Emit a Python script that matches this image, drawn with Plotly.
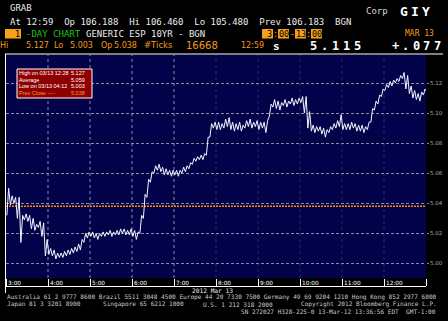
import plotly.graph_objects as go

W, H = 448, 321
MONO = "DejaVu Sans Mono"
SANS = "DejaVu Sans"

# ---------------- data ----------------
session_start = "3:00"
bar_minutes = 5
# 5-minute bars, low / high (ESP 10YR generic yield, 13 Mar 2012)
bar_lo = [
    5.032, 5.039, 5.040, 5.030, 5.014, 5.029, 5.028, 5.023, 5.022, 5.024, 5.018, 5.005,
    5.006, 5.005, 5.003, 5.004, 5.004, 5.005, 5.006, 5.007, 5.008, 5.009, 5.014, 5.017,
    5.018, 5.017, 5.016, 5.018, 5.018, 5.019, 5.018, 5.019, 5.019, 5.020, 5.019, 5.019,
    5.018, 5.016, 5.020, 5.030, 5.044, 5.054, 5.060, 5.062, 5.061, 5.059, 5.059, 5.058,
    5.059, 5.058, 5.060, 5.061, 5.063, 5.066, 5.068, 5.069, 5.069, 5.072, 5.084, 5.090,
    5.089, 5.089, 5.090, 5.091, 5.089, 5.088, 5.089, 5.088, 5.090, 5.091, 5.090, 5.091,
    5.089, 5.090, 5.087, 5.098, 5.104, 5.103, 5.102, 5.105, 5.104, 5.106, 5.105, 5.106,
    5.107, 5.100, 5.090, 5.088, 5.087, 5.088, 5.086, 5.084, 5.087, 5.089, 5.090, 5.091,
    5.089, 5.089, 5.089, 5.090, 5.088, 5.088, 5.087, 5.089, 5.094, 5.102, 5.106, 5.111,
    5.115, 5.117, 5.118, 5.120, 5.121, 5.123, 5.116, 5.113, 5.110, 5.109, 5.108, 5.112,
]
bar_hi = [
    5.050, 5.045, 5.044, 5.044, 5.032, 5.033, 5.032, 5.030, 5.026, 5.028, 5.027, 5.016,
    5.010, 5.009, 5.007, 5.007, 5.008, 5.009, 5.010, 5.011, 5.013, 5.016, 5.020, 5.021,
    5.021, 5.020, 5.020, 5.021, 5.021, 5.022, 5.021, 5.022, 5.023, 5.023, 5.022, 5.023,
    5.022, 5.021, 5.032, 5.046, 5.056, 5.061, 5.065, 5.066, 5.064, 5.063, 5.062, 5.062,
    5.062, 5.062, 5.064, 5.065, 5.067, 5.070, 5.071, 5.072, 5.073, 5.084, 5.093, 5.094,
    5.094, 5.093, 5.096, 5.097, 5.094, 5.093, 5.094, 5.092, 5.095, 5.096, 5.094, 5.095,
    5.094, 5.094, 5.095, 5.106, 5.109, 5.108, 5.107, 5.109, 5.108, 5.110, 5.109, 5.110,
    5.111, 5.111, 5.101, 5.092, 5.091, 5.091, 5.090, 5.089, 5.091, 5.093, 5.095, 5.099,
    5.093, 5.093, 5.094, 5.093, 5.092, 5.092, 5.091, 5.094, 5.103, 5.108, 5.112, 5.116,
    5.119, 5.121, 5.122, 5.123, 5.125, 5.127, 5.125, 5.118, 5.115, 5.113, 5.114, 5.116,
]
last_time = "12:59"
last_price = 5.115
prev_close = 5.038

hour_ticks = [3, 4, 5, 6, 7, 8, 9, 10, 11, 12, 13]
hour_labels = ["3:00", "4:00", "5:00", "6:00", "7:00", "8:00", "9:00", "10:00", "11:00", "12:00", ""]
bright_grid_hours = [4, 5, 6, 7]
dim_grid_hours = [8, 9, 10, 11, 12]
y_ticks = [5.00, 5.02, 5.04, 5.06, 5.08, 5.10, 5.12]
y_labels = ["5.00", "5.02", "5.04", "5.06", "5.08", "5.10", "5.12"]

legend_rows = [("High on 03/13 12:28", "5.127"), ("Average", "5.059"),
               ("Low on 03/13 04:12", "5.003"), ("Prev Close ----", "5.038")]


def hm(s):
    h, m = s.split(":")
    return int(h) + int(m) / 60.0


# build tick-bar polyline (zigzag low -> high within each bar)
t0 = hm(session_start)
xs, ys = [], []
for i, (lo, hi) in enumerate(zip(bar_lo, bar_hi)):
    base = t0 + i * bar_minutes / 60.0
    xs += [base + 1.25 / 60.0, base + 3.75 / 60.0]
    ys += [lo, hi]
xs.append(hm(last_time))
ys.append(last_price)

# ---------------- figure ----------------
NAVY = "#02024a"
ORANGE = "#f39a1e"
GRID = "#8c8ca0"

y_bot_px, y_top_px = 278, 55
x_left_px, x_right_px = 6, 426


def py(p):
    return 1 - p / H


def px(p):
    return p / W


fig = go.Figure()
fig.add_trace(go.Scatter(x=[3, 13], y=[prev_close, prev_close], mode="lines",
                         line=dict(color="#ff8a00", width=1.5, dash="2px,1px"),
                         hoverinfo="skip", showlegend=False))
fig.add_trace(go.Scatter(x=xs, y=ys, mode="lines",
                         line=dict(color="#f4f4ff", width=1),
                         hoverinfo="skip", showlegend=False))

shapes = []
for h in bright_grid_hours:
    shapes.append(dict(type="line", xref="x", yref="paper", x0=h, x1=h,
                       y0=py(y_bot_px), y1=py(y_top_px),
                       line=dict(color=GRID, width=1, dash="3px,3px"), layer="below"))
for h in dim_grid_hours:
    shapes.append(dict(type="line", xref="x", yref="paper", x0=h, x1=h,
                       y0=py(y_bot_px), y1=py(y_top_px),
                       line=dict(color="#2a2a72", width=1, dash="3px,3px"), layer="below"))

# frame lines
shapes.append(dict(type="line", xref="paper", yref="paper", x0=px(5), x1=px(443),
                   y0=py(54), y1=py(54), line=dict(color="white", width=1)))
shapes.append(dict(type="line", xref="paper", yref="paper", x0=px(5.5), x1=px(5.5),
                   y0=py(54), y1=py(293), line=dict(color="white", width=1)))
shapes.append(dict(type="line", xref="paper", yref="paper", x0=px(5), x1=px(426),
                   y0=py(286.5), y1=py(286.5), line=dict(color="white", width=1)))

# header orange boxes
for (a, b) in [(5, 21), (262, 273), (278, 289), (295, 306), (311, 322)]:
    shapes.append(dict(type="rect", xref="paper", yref="paper", x0=px(a), x1=px(b),
                       y0=py(38.5), y1=py(29), fillcolor="#f7a11a", line=dict(width=0)))
# legend box
shapes.append(dict(type="rect", xref="paper", yref="paper", x0=px(17), x1=px(92),
                   y0=py(98), y1=py(69), fillcolor="#8e0000",
                   line=dict(color="white", width=1)))

ann = []


def txt(x, y, s, size, color, family=MONO, anchor="left", bold=False):
    ann.append(dict(x=px(x), y=py(y), xref="paper", yref="paper",
                    text=s.replace(" ", "\u00a0"), showarrow=False,
                    xanchor=anchor, yanchor="middle", borderpad=0, borderwidth=0,
                    font=dict(family=family, size=size, color=color,
                              weight="bold" if bold else "normal")))


WHITE = "#ececec"
txt(10, 8.5, "GRAB", 9, WHITE)
txt(10, 22, "At 12:59  Op 106.188  Hi 106.460  Lo 105.480  Prev 106.183  BGN", 9, WHITE)
txt(366, 11, "Corp", 9, "#d8d8d8")
for i, ch in enumerate("GIY"):
    txt(404 + i * 11, 11, ch, 13, "white", anchor="center", bold=True)

# line 3
txt(17, 34, "1", 8.5, "black", anchor="center")
txt(26, 34, "-DAY CHART", 9, "#1fc31f")
txt(86, 34, "GENERIC ESP 10YR - BGN", 9, WHITE)
for (cx, s, col) in [(269.5, "3", "black"), (275.5, ":", ORANGE), (283.5, "00", "black"),
                     (292, "-", ORANGE), (300.5, "13", "black"), (308.5, ":", ORANGE),
                     (316.5, "00", "black")]:
    txt(cx, 34, s, 8.5, col, anchor="center")
txt(405, 33.5, "MAR 13", 8, ORANGE)

# line 4
for (x, s, sz) in [(0, "Hi", 8), (26, "5.127", 8), (54, "Lo", 8), (70, "5.003", 8),
                   (101, "Op", 8), (114, "5.038", 8), (144, "#Ticks", 8.5),
                   (186, "16668", 10), (241, "12:59", 8)]:
    txt(x, 45, s, sz, ORANGE, family=SANS)
txt(273, 46, "s", 11, "white", bold=True)
for i, ch in enumerate("5.115"):
    txt(313 + i * 11, 46, ch, 12, "white", anchor="center", bold=True)
for i, ch in enumerate("+.077"):
    txt(395 + i * 10.5, 46, ch, 12, "white", anchor="center", bold=True)

# legend text
for k, (lab, val) in enumerate(legend_rows):
    yy = 73.5 + k * 6.5
    col = "white" if k < 3 else "#ff9a2a"
    txt(18.5, yy, lab, 5.5, col, family="Liberation Sans")
    txt(85, yy, val, 5.5, col, family="Liberation Sans", anchor="right")

# x-axis labels beside ticks
for h, lab in zip(hour_ticks, hour_labels):
    if lab:
        ann.append(dict(x=h, y=py(282.5), xref="x", yref="paper", text=lab,
                        showarrow=False, xanchor="left", yanchor="middle", xshift=1,
                        borderpad=0, font=dict(family=SANS, size=5.8, color="white")))

FOOT = "#c8c8c8"
txt(212, 290, "2012 Mar 13", 6.2, WHITE, anchor="center")
txt(7, 297, "Australia 61 2 9777 8600 Brazil 5511 3048 4500 Europe 44 20 7330 7500 Germany 49 69 9204 1210 Hong Kong 852 2977 6000", 6.1, FOOT)
txt(7, 304, "Japan 81 3 3201 8900", 6.1, FOOT)
txt(103, 304, "Singapore 65 6212 1000", 6.1, FOOT)
txt(203, 304, "U.S. 1 212 318 2000", 6.1, FOOT)
txt(301, 304, "Copyright 2012 Bloomberg Finance L.P.", 6.1, FOOT)
txt(436, 311, "SN 272027 H328-225-0 13-Mar-12 13:36:56 EDT  GMT-1:00", 6.1, FOOT, anchor="right")

fig.update_layout(
    width=W, height=H, margin=dict(l=0, r=0, t=0, b=0),
    paper_bgcolor="black", plot_bgcolor=NAVY, showlegend=False,
    shapes=shapes, annotations=ann,
    xaxis=dict(domain=[px(x_left_px), px(x_right_px)], range=[3, 13],
               tickvals=hour_ticks, showticklabels=False, ticks="outside",
               ticklen=7, tickcolor="white", tickwidth=1,
               showgrid=False, zeroline=False, showline=False, fixedrange=True),
    yaxis=dict(domain=[py(y_bot_px), py(y_top_px)],
               range=[5.00 - (y_bot_px - 263.5) / 1504, 5.12 + (83 - y_top_px) / 1504],
               side="right", tickvals=y_ticks, ticktext=y_labels,
               tickfont=dict(family=SANS, size=5.5, color="#a8a8a8"),
               ticks="outside", ticklen=2, tickcolor=GRID,
               showgrid=True, gridcolor=GRID, gridwidth=1, griddash="3px,2px",
               zeroline=False, showline=False, fixedrange=True),
)

fig.write_html("out.html")
